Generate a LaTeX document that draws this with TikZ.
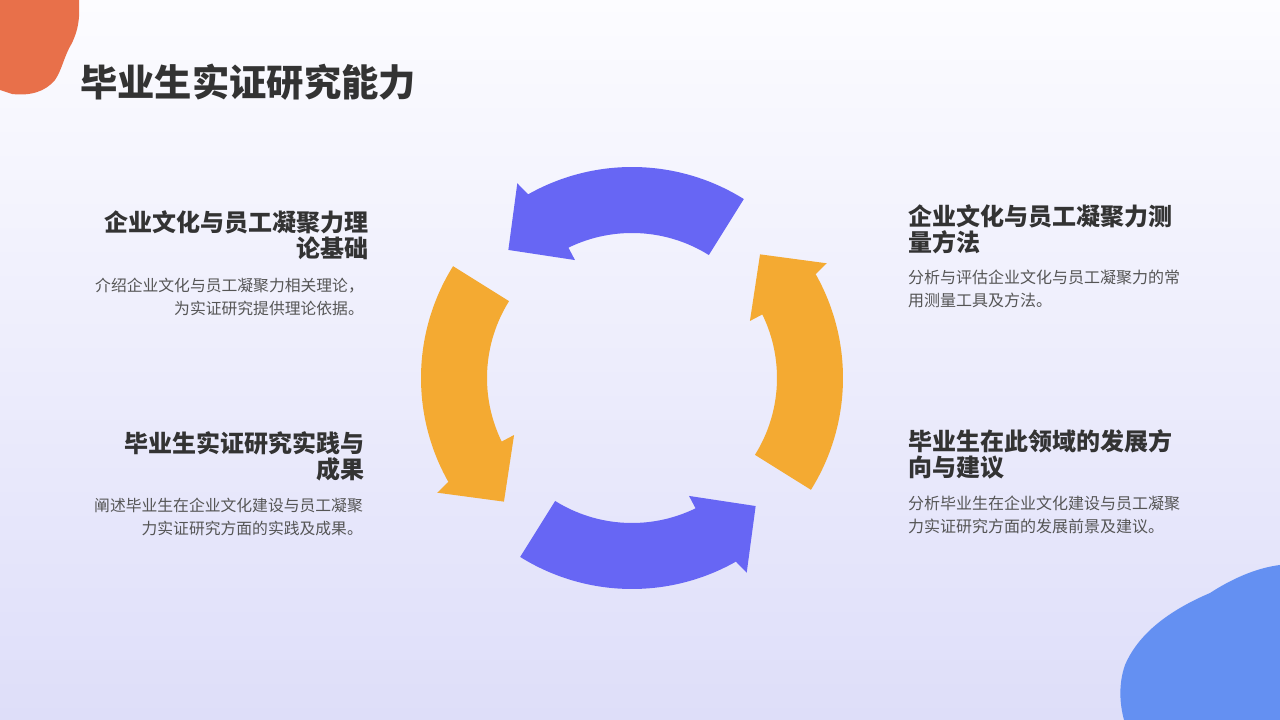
\documentclass[tikz,border=0pt]{standalone}
\usepackage{fontspec}
\usepackage{tikz}
\setmainfont{Noto Sans CJK SC}
\definecolor{bgtop}{HTML}{FCFCFF}
\definecolor{bgbot}{HTML}{DEDEF9}
\definecolor{ringblue}{HTML}{6766F4}
\definecolor{ringorange}{HTML}{F4AA32}
\definecolor{blobred}{HTML}{E8704A}
\definecolor{blobblue}{HTML}{6490F2}
\definecolor{titlegray}{HTML}{333333}
\definecolor{bodygray}{HTML}{555555}
% one ring segment: tail at angle #1, head 76 degrees further on
\newcommand{\ringarrow}[2]{\fill[#2] (#1:211) arc[start angle=#1, end angle={#1+61.5}, radius=211] -- ({#1+62.5}:226) -- ({#1+76}:178) -- ({#1+57.8}:131) -- ({#1+58}:145) arc[start angle={#1+58}, end angle=#1, radius=145] -- cycle;}

\begin{document}
\begin{tikzpicture}[x=1pt,y=1pt,inner sep=0pt,
  headr/.style={anchor=north east,align=right,text=titlegray,font=\fontsize{24}{26}\selectfont\bfseries},
  headl/.style={anchor=north west,align=left,text=titlegray,font=\fontsize{24}{26}\selectfont\bfseries},
  bodyr/.style={anchor=north east,align=right,text=bodygray,font=\fontsize{15.8}{23}\selectfont},
  bodyl/.style={anchor=north west,align=left,text=bodygray,font=\fontsize{16}{23}\selectfont}]
\useasboundingbox (0,0) rectangle (1280,720);
\shade[top color=bgtop,bottom color=bgbot] (0,0) rectangle (1280,720);
% corner blobs
\fill[blobred] (0,720) -- (79,720) .. controls (80,700) and (78,690) .. (72,677) .. controls (64,664) and (62,650) .. (55,640) .. controls (45,628) and (30,624) .. (12,626) -- (0,630) -- cycle;
\fill[blobblue] (1280,155) .. controls (1255,152) and (1230,140) .. (1210,127) .. controls (1175,112) and (1140,90) .. (1125,55) .. controls (1118,35) and (1120,15) .. (1124,0) -- (1280,0) -- cycle;
\node[anchor=west,text=titlegray,font=\fontsize{37.3}{40}\selectfont\bfseries] (title) at (80,638) {毕业生实证研究能力};
% ring of four arrows
\begin{scope}[shift={(632,342)}]
\ringarrow{58}{ringblue} \ringarrow{-32}{ringorange} \ringarrow{-122}{ringblue} \ringarrow{148}{ringorange}
\end{scope}
\node[headr] (theoryhead) at (369,510) {企业文化与员工凝聚力理\\论基础};
\node[bodyr] (theorybody) at (364,442) {介绍企业文化与员工凝聚力相关理论，\\为实证研究提供理论依据。};
\node[headr] (practicehead) at (365,289) {毕业生实证研究实践与\\成果};
\node[bodyr] (practicebody) at (363,222) {阐述毕业生在企业文化建设与员工凝聚\\力实证研究方面的实践及成果。};
\node[headl] (measurehead) at (908,516) {企业文化与员工凝聚力测\\量方法};
\node[bodyl] (measurebody) at (908,450) {分析与评估企业文化与员工凝聚力的常\\用测量工具及方法。};
\node[headl] (advicehead) at (908,291) {毕业生在此领域的发展方\\向与建议};
\node[bodyl] (advicebody) at (908,224) {分析毕业生在企业文化建设与员工凝聚\\力实证研究方面的发展前景及建议。};
\end{tikzpicture}
\end{document}
